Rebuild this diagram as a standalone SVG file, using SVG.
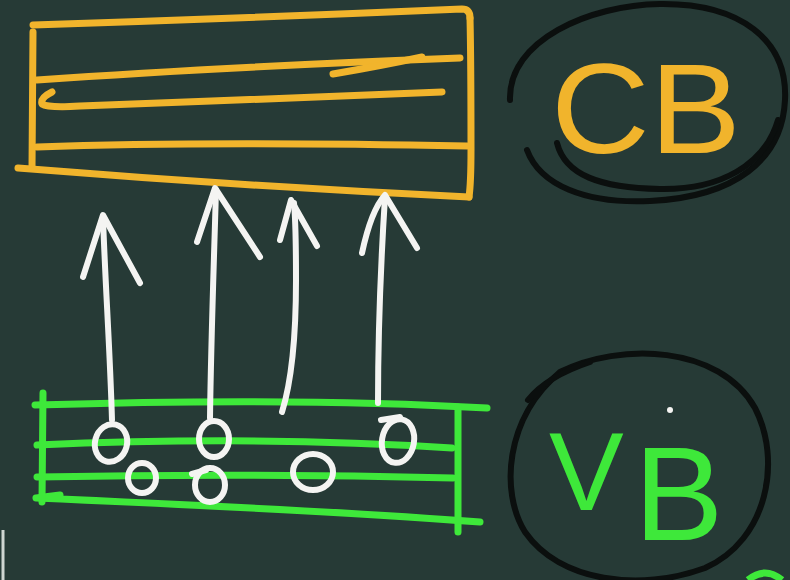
<svg xmlns="http://www.w3.org/2000/svg" width="790" height="580" viewBox="0 0 790 580">
  <defs>
    <style>
      .bg { fill: #263a36; }
      .y { fill: none; stroke: #f1b42c; stroke-width: 7; stroke-linecap: round; stroke-linejoin: round; }
      .g { fill: none; stroke: #3ee83a; stroke-width: 7; stroke-linecap: round; stroke-linejoin: round; }
      .w { fill: none; stroke: #f4f4f2; stroke-width: 6; stroke-linecap: round; stroke-linejoin: round; }
      .k { fill: none; stroke: #0b0f0e; stroke-width: 6; stroke-linecap: round; stroke-linejoin: round; }
      .lblY { fill: #f1b42c; font-family: "Liberation Sans", Arial, sans-serif; }
      .lblG { fill: #3ee83a; font-family: "Liberation Sans", Arial, sans-serif; }
    </style>
  </defs>
  <rect class="bg" x="0" y="0" width="790" height="580"/>

  <g id="cb-box">
    <path class="y" d="M33,25 Q250,18 462,9 Q470,9 470,18"/>
    <path class="y" d="M470,18 C471,60 471,110 471,150 C471,175 470,190 469,197"/>
    <path class="y" d="M18,168 Q240,186 469,197"/>
    <path class="y" d="M33,32 L32,168"/>
    <path class="y" d="M37,80 C150,72 300,64 460,58"/>
    <path class="y" d="M333,74 Q380,66 422,57"/>
    <path class="y" d="M52,92 Q40,98 42,104 Q48,108 80,106 C200,102 330,96 442,92"/>
    <path class="y" d="M37,147 C150,143 300,143 467,146"/>
  </g>

  <g id="cb-label">
    <path class="k" d="M510,100 C508,40 590,5 660,4 C740,3 788,40 785,100 C782,160 735,197 650,201 C585,204 540,185 527,150"/>
    <path class="k" d="M557,143 C565,175 600,188 660,189 C720,190 765,165 778,120"/>
    <text class="lblY" x="551" y="153" font-size="128" textLength="190" lengthAdjust="spacingAndGlyphs">CB</text>
  </g>

  <g id="vb-staff">
    <path class="g" d="M35,405 C200,400 350,400 487,408"/>
    <path class="g" d="M37,445 C200,438 330,440 452,448"/>
    <path class="g" d="M37,477 C200,474 330,475 453,478"/>
    <path class="g" d="M60,495 L36,498 C200,505 350,512 480,522"/>
    <path class="g" d="M43,393 L42,502"/>
    <path class="g" d="M458,407 L458,532"/>
    <ellipse class="w" cx="111" cy="443" rx="16" ry="19" transform="rotate(15 111 443)"/>
    <ellipse class="w" cx="142" cy="478" rx="14" ry="15"/>
    <ellipse class="w" cx="214" cy="439" rx="15" ry="18"/>
    <ellipse class="w" cx="210" cy="485" rx="15" ry="17"/>
    <path class="w" d="M192,474 L206,470"/>
    <ellipse class="w" cx="313" cy="472" rx="20" ry="18"/>
    <ellipse class="w" cx="398" cy="441" rx="16" ry="22" transform="rotate(10 398 441)"/>
    <path class="w" d="M381,420 L400,417"/>
  </g>

  <g id="vb-label">
    <path class="k" d="M560,372 C620,342 720,345 755,408 C782,460 768,540 705,568 C640,592 560,582 525,532 C500,492 505,418 560,372"/>
    <path class="k" d="M528,400 C540,385 560,372 590,362"/>
    <circle cx="670" cy="410" r="3" fill="#f4f4f2"/>
    <text class="lblG"><tspan x="549" y="510" font-size="112">V</tspan><tspan x="634" y="540" font-size="134">B</tspan></text>
  </g>

  <g id="connectors">
    <path class="w" d="M112,420 C110,350 105,280 103,217"/>
    <path class="w" d="M83,277 L103,215 L140,283"/>
    <path class="w" d="M210,418 C211,340 214,260 216,190"/>
    <path class="w" d="M197,242 L215,188 L260,257"/>
    <path class="w" d="M282,412 C292,380 296,330 296,280 C296,250 296,225 294,203"/>
    <path class="w" d="M280,240 L291,200 L317,246"/>
    <path class="w" d="M378,403 C378,330 381,260 385,197"/>
    <path class="w" d="M362,253 C368,225 376,205 385,195 L417,248"/>
  </g>

  <path d="M748,580 Q765,566 782,580" fill="none" stroke="#3ee83a" stroke-width="7"/>
  <path d="M3,530 L3,580" fill="none" stroke="#cfd6d2" stroke-width="3"/>
</svg>
